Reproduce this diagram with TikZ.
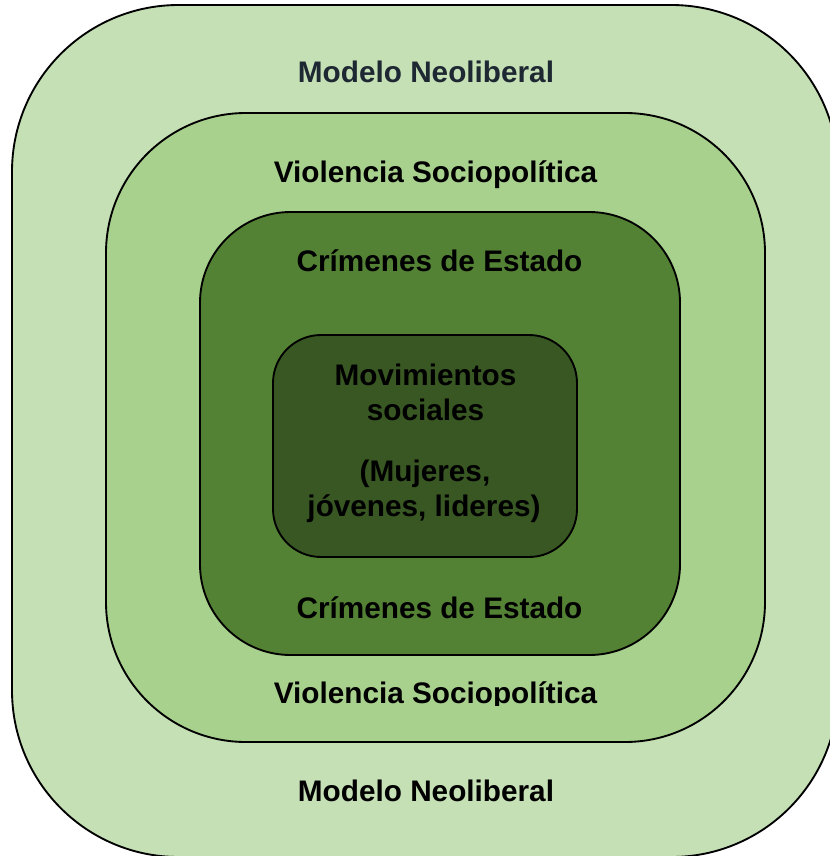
\documentclass[tikz,border=0pt]{standalone}
\usepackage{fontspec}
\setmainfont{Liberation Sans}
\definecolor{g1}{HTML}{C5E0B4}
\definecolor{g2}{HTML}{A9D18E}
\definecolor{g3}{HTML}{548235}
\definecolor{g4}{HTML}{385723}
\definecolor{navy}{HTML}{1E2833}
\tikzset{
  ring/.style={draw=black, line width=1.4pt},
  lbl/.style={anchor=base, inner sep=0pt, font=\fontsize{22.3}{27}\selectfont\bfseries, text=black},
}
\begin{document}
\begin{tikzpicture}[x=0.75pt,y=-0.75pt]
\clip (0,0) rectangle (830,856);
\fill[white] (0,0) rectangle (830,856);
\draw[ring, fill=g1, rounded corners=125] (12,5) rectangle (838,857);
\draw[ring, fill=g2, rounded corners=105] (106,113) rectangle (765,742);
\draw[ring, fill=g3, rounded corners=68] (200,212) rectangle (680,655);
\draw[ring, fill=g4, rounded corners=36] (273,335) rectangle (577,557);
\node[lbl, text=navy] (mn1) at (426,83) {Modelo Neoliberal};
\node[lbl] (vs1) at (435.5,182) {Violencia Sociopolítica};
\node[lbl] (ce1) at (439.5,271) {Crímenes de Estado};
\node[lbl] (mv1) at (425.5,385) {Movimientos};
\node[lbl] (mv2) at (425.5,420) {sociales};
\node[lbl] (mv3) at (425,481) {(Mujeres,};
\node[lbl] (mv4) at (424,516) {jóvenes, lideres)};
\node[lbl] (ce2) at (439.5,618) {Crímenes de Estado};
\begin{scope}
\clip (0,0) rectangle (830,705);
\node[lbl] (vs2) at (435.5,703) {Violencia Sociopolítica};
\end{scope}
\node[lbl] (mn2) at (426,801) {Modelo Neoliberal};
\end{tikzpicture}
\end{document}
